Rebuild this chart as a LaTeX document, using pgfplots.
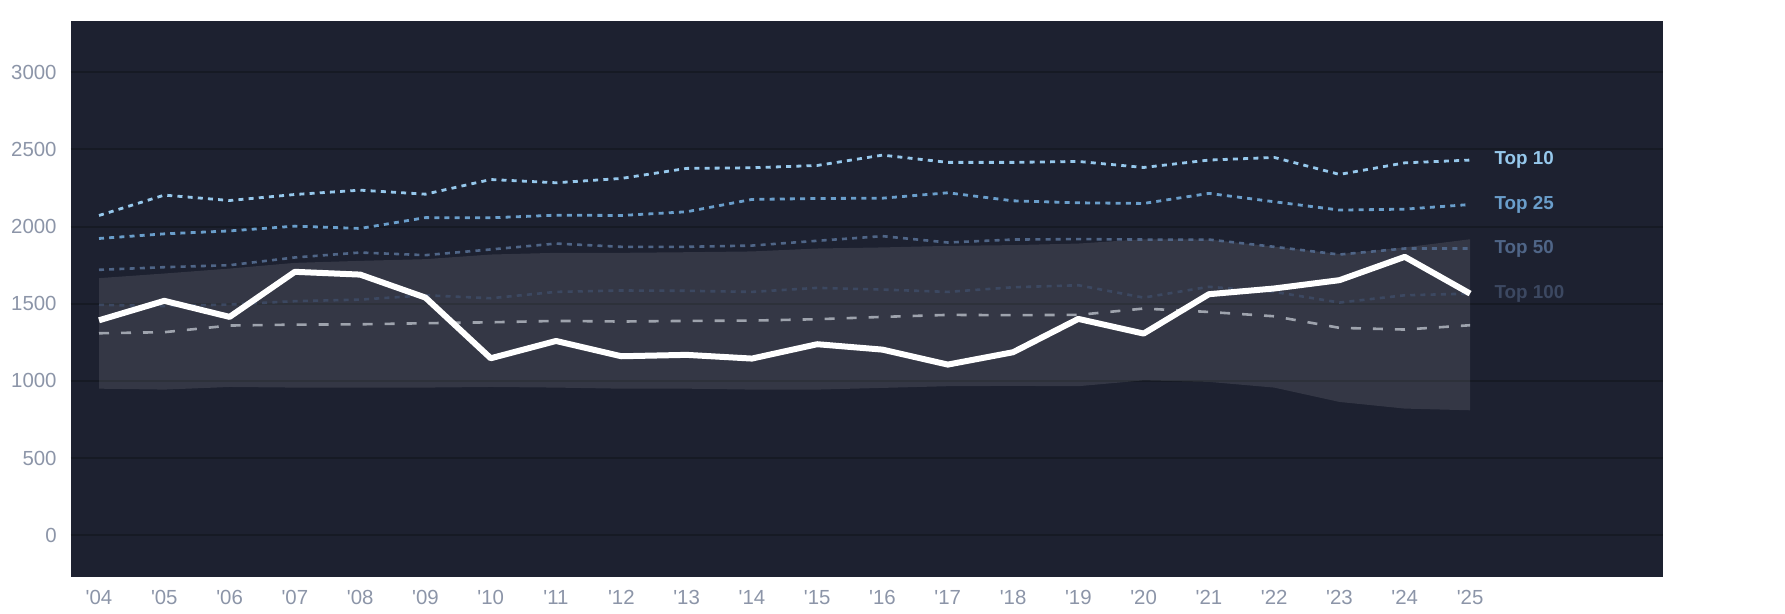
\documentclass[border=0pt]{standalone}
\usepackage{pgfplots}
\pgfplotsset{compat=1.18}
\usepgfplotslibrary{fillbetween}
\usepackage{fontspec}
\setmainfont{Liberation Sans}
\definecolor{bgcol}{HTML}{1D2130}
\definecolor{gridcol}{HTML}{161A24}
\definecolor{tickcol}{HTML}{8C95A8}
\definecolor{topten}{HTML}{96C8EC}
\definecolor{toptwentyfive}{HTML}{6A9ECB}
\definecolor{topfifty}{HTML}{4F6587}
\definecolor{tophundred}{HTML}{3C4861}
\definecolor{dashcol}{HTML}{9EA3AD}

\pgfplotstableread{
x  t10  t25  t50  t100 med  team up   lo
0  2072 1923 1720 1493 1309 1393 1666 950
1  2204 1953 1737 1485 1316 1519 1696 944
2  2169 1972 1750 1495 1359 1415 1728 961
3  2208 2003 1800 1517 1365 1707 1765 957
4  2236 1988 1832 1527 1367 1689 1778 957
5  2210 2058 1815 1555 1374 1540 1789 957
6  2305 2057 1852 1536 1380 1147 1819 961
7  2284 2074 1890 1577 1389 1259 1830 957
8  2312 2072 1869 1586 1385 1160 1830 950
9  2377 2096 1869 1584 1389 1169 1834 950
10 2381 2176 1877 1577 1391 1145 1839 944
11 2396 2182 1908 1603 1400 1238 1858 944
12 2463 2184 1938 1592 1415 1203 1865 955
13 2416 2219 1897 1577 1428 1106 1875 966
14 2416 2167 1916 1607 1426 1186 1880 968
15 2422 2154 1919 1620 1428 1402 1890 966
16 2383 2150 1916 1540 1469 1307 1918 1004
17 2431 2215 1916 1610 1447 1562 1916 994
18 2448 2161 1869 1577 1419 1599 1870 957
19 2338 2107 1819 1508 1344 1653 1822 864
20 2413 2113 1858 1555 1333 1804 1865 821
21 2431 2143 1858 1566 1361 1566 1918 810
}\datatable

\begin{document}
\begin{tikzpicture}
\begin{axis}[
  at={(0,0)}, anchor=south west,
  scale only axis,
  width=796pt, height=278pt,
  xmin=-0.429, xmax=23.955,
  ymin=-270, ymax=3332,
  axis background/.style={fill=bgcol},
  axis line style={draw=none},
  major tick length=0pt,
  xtick={0,...,21},
  xticklabels={\textquotesingle04,\textquotesingle05,\textquotesingle06,\textquotesingle07,\textquotesingle08,\textquotesingle09,\textquotesingle10,\textquotesingle11,\textquotesingle12,\textquotesingle13,\textquotesingle14,\textquotesingle15,\textquotesingle16,\textquotesingle17,\textquotesingle18,\textquotesingle19,\textquotesingle20,\textquotesingle21,\textquotesingle22,\textquotesingle23,\textquotesingle24,\textquotesingle25},
  ytick={0,500,...,3000},
  ymajorgrids,
  grid style={draw=gridcol, line width=1pt},
  /pgf/number format/assume math mode=true,
  /pgf/number format/1000 sep={},
  ticklabel style={font=\fontsize{10.2}{12}\selectfont, text=tickcol},
  yticklabel style={inner sep=0pt, anchor=east, xshift=-7pt},
  xticklabel style={inner sep=0pt, anchor=north, yshift=-6.5pt},
  clip=false,
]
\addplot[name path=up, draw=none, forget plot] table[x=x, y=up] {\datatable};
\addplot[name path=lo, draw=none, forget plot] table[x=x, y=lo] {\datatable};
\addplot[fill=white, fill opacity=0.1, draw=none] fill between[of=up and lo];

\addplot[tophundred, line width=1.3pt, dash pattern=on 2.5pt off 2.6pt] table[x=x, y=t100] {\datatable};
\addplot[dashcol, line width=1.3pt, dash pattern=on 5pt off 6pt] table[x=x, y=med] {\datatable};
\addplot[topfifty, line width=1.3pt, dash pattern=on 2.5pt off 2.6pt] table[x=x, y=t50] {\datatable};
\addplot[toptwentyfive, line width=1.4pt, dash pattern=on 2.5pt off 2.6pt] table[x=x, y=t25] {\datatable};
\addplot[topten, line width=1.4pt, dash pattern=on 2.5pt off 2.6pt] table[x=x, y=t10] {\datatable};
\addplot[white, line width=3pt, line join=round] table[x=x, y=team] {\datatable};

\node[anchor=west, inner sep=0pt, text=topten, font=\bfseries\fontsize{9.4}{11}\selectfont] at (axis cs:21.37,2431) {Top 10};
\node[anchor=west, inner sep=0pt, text=toptwentyfive, font=\bfseries\fontsize{9.4}{11}\selectfont] at (axis cs:21.37,2143) {Top 25};
\node[anchor=west, inner sep=0pt, text=topfifty, font=\bfseries\fontsize{9.4}{11}\selectfont] at (axis cs:21.37,1858) {Top 50};
\node[anchor=west, inner sep=0pt, text=tophundred, font=\bfseries\fontsize{9.4}{11}\selectfont] at (axis cs:21.37,1566) {Top 100};
\end{axis}
\pgfresetboundingbox
\path[use as bounding box] (-35.5pt,-18.5pt) rectangle (857pt,288.5pt);
\end{tikzpicture}
\end{document}
